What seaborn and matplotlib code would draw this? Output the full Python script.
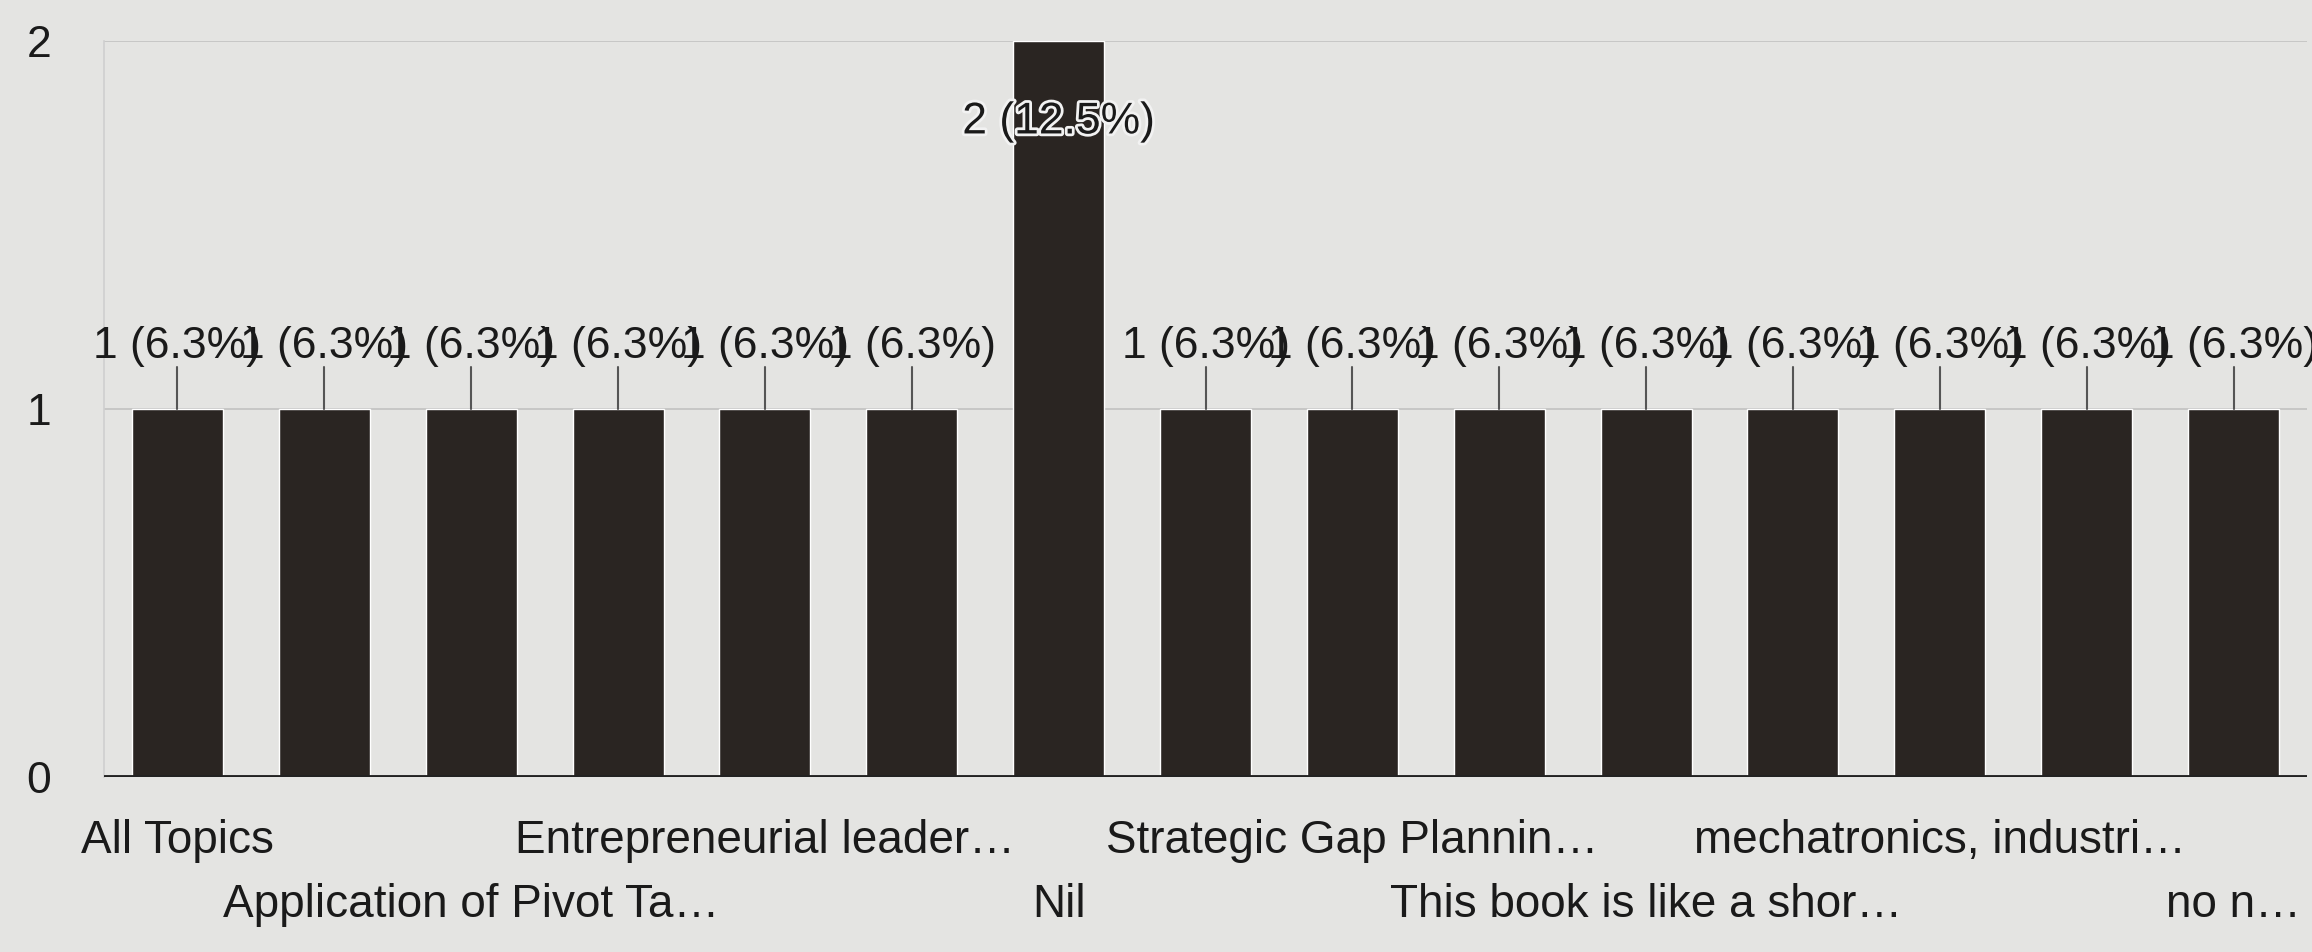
import matplotlib
matplotlib.use("Agg")
import matplotlib.pyplot as plt
import matplotlib.patheffects as pe
import seaborn as sns

# responses per topic (16 answers in total)
counts = [1, 1, 1, 1, 1, 1, 2, 1, 1, 1, 1, 1, 1, 1, 1]
positions = list(range(len(counts)))

# only every other category name is printed, in two staggered rows
top_row_ticks = [0, 4, 8, 12]
top_row_labels = ["All Topics", "Entrepreneurial leader…",
                  "Strategic Gap Plannin…", "mechatronics, industri…"]
bottom_row_ticks = [2, 6, 10, 14]
bottom_row_labels = ["Application of Pivot Ta…", "Nil",
                     "This book is like a shor…", "no n…"]
y_ticks = [0, 1, 2]

BG = "#e4e4e2"
BAR = "#2a2522"
TEXT = "#1a1a1a"

sns.set_theme(style="white")
plt.rcParams["font.family"] = ["Liberation Sans", "DejaVu Sans"]

fig = plt.figure(figsize=(23.12, 9.52), dpi=100, facecolor=BG)
ax = fig.add_axes([104 / 2312, 1 - 777 / 952, (2307 - 104) / 2312, (777 - 41) / 952])
ax.set_facecolor(BG)

sns.barplot(x=positions, y=counts, color=BAR, saturation=1, width=0.62, ax=ax, zorder=3)

ax.set_xlim(-0.5, len(counts) - 0.5)
ax.set_ylim(0, 2)

# grid and baseline
for y in y_ticks[1:]:
    ax.axhline(y, color="#c4c4c4", lw=1.3, zorder=1)
ax.axhline(0, color="#222222", lw=3.5, zorder=4)
for side in ["top", "right", "bottom"]:
    ax.spines[side].set_visible(False)
ax.spines["left"].set_color("#cfcfcf")
ax.spines["left"].set_linewidth(1.2)

ax.set_yticks(y_ticks)
ax.set_yticklabels([str(v) for v in y_ticks], fontsize=32, color=TEXT)
ax.tick_params(axis="y", length=0, pad=38)

ax.set_xticks(top_row_ticks)
ax.set_xticklabels(top_row_labels, fontsize=33, color=TEXT)
ax.set_xticks(bottom_row_ticks, minor=True)
ax.set_xticklabels(bottom_row_labels, minor=True, fontsize=33, color=TEXT)
ax.tick_params(axis="x", which="major", length=0, pad=30)
ax.tick_params(axis="x", which="minor", length=0, pad=76)
ax.set_xlabel("")
ax.set_ylabel("")

# value labels "n (pct%)"
total = sum(counts)
for x, c in zip(positions, counts):
    pct = int(c / total * 1000 + 0.5) / 10
    label = f"{c} ({pct}%)"
    if c == max(counts):
        ax.text(x, c - 0.22, label, ha="center", va="center", fontsize=32,
                color=TEXT, zorder=6,
                path_effects=[pe.withStroke(linewidth=4, foreground="#f2f2f2")])
    else:
        ax.plot([x, x], [c, c + 0.115], color="#555555", lw=1.5, zorder=5)
        ax.text(x, c + 0.17, label, ha="center", va="center", fontsize=32,
                color=TEXT, zorder=6)

fig.savefig("out.png", dpi=100, facecolor=BG)
